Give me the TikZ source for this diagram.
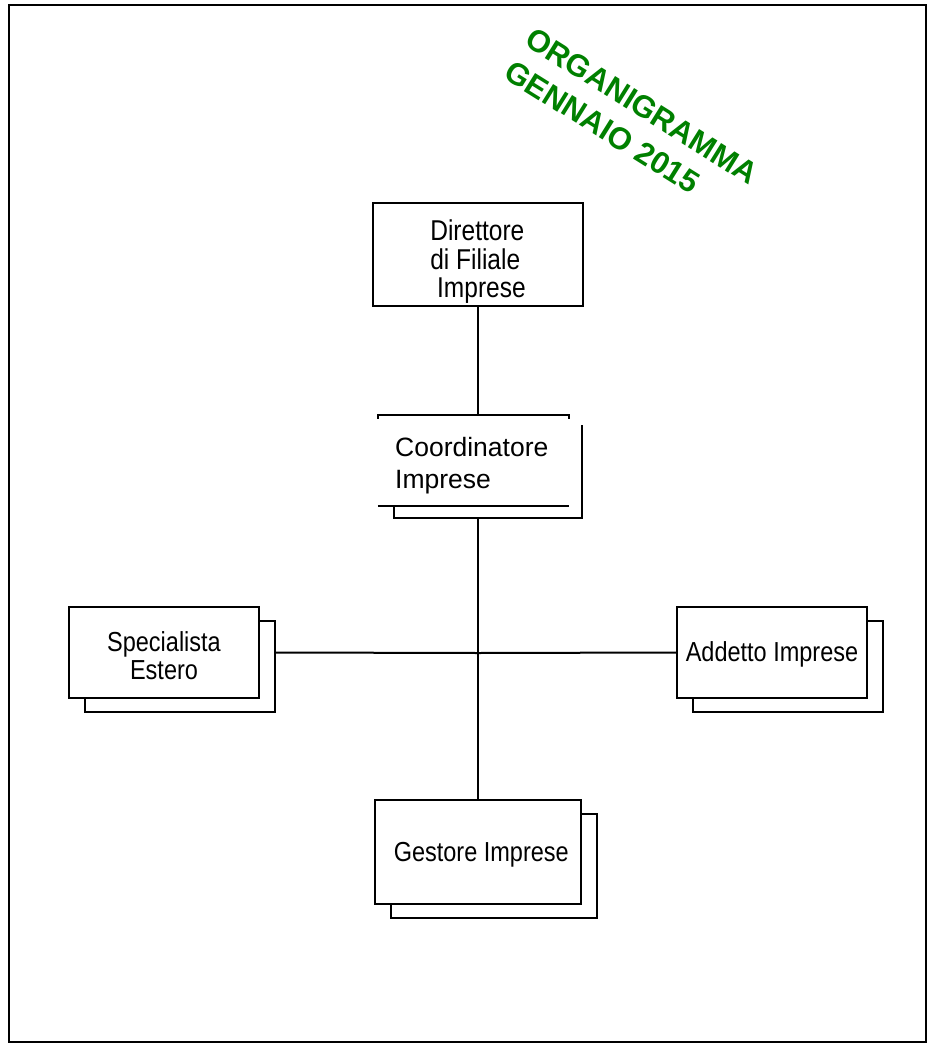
\documentclass[tikz,border=0pt]{standalone}
\usepackage{fontspec}
\setmainfont{Liberation Sans}
\usepackage{tikz}
\usetikzlibrary{shadows}
\usepackage{xcolor}
\usepackage{graphicx}
\definecolor{titlegreen}{RGB}{0,128,0}
% box text, a little taller than wide, lowered by #2
\newcommand{\boxtext}[3][c]{\raisebox{-#2}[\height][\depth]{\scalebox{1}[1.17]{\begin{tabular}{@{}#1@{}}#3\end{tabular}}}}

\begin{document}
\begin{tikzpicture}[x=1pt, y=-1pt,
    box/.style={draw, fill=white, line width=2pt, inner sep=0pt,
        font=\fontsize{23.5}{24}\selectfont},
    stack/.style={box, copy shadow={shadow xshift=15.5pt, shadow yshift=-13.5pt, line width=2pt}},
    link/.style={line width=2pt},
    title/.style={text=titlegreen, font=\fontsize{31}{39}\selectfont\bfseries, rotate=-32}]
    \useasboundingbox (0,0) rectangle (933,1046);
    \draw[line width=2pt] (9,5) rectangle (926,1042);

    % title
    \node[title, align=left, inner sep=0pt] (title) at (631.7,122.5) {ORGANIGRAMMA\\GENNAIO 2015};

    % boxes
    \node[box, minimum width=210pt, minimum height=103pt, font=\fontsize{24.5}{24}\selectfont] (dir) at (478,254.5)
        {\boxtext[l]{8pt}{Direttore\\di Filiale\\~Imprese}};
    \node[minimum width=191pt, minimum height=91pt, inner sep=0pt] (coord) at (473.5,460.5) {};
    \node[anchor=north west, inner sep=0pt, align=left, font=\fontsize{26.5}{32}\selectfont]
        (coordtext) at (395,437) {Coordinatore\\Imprese};
    \draw[link] ([yshift=-4pt]coord.north west) -- (coord.north west) -- (coord.north east) -- ++(0,-4pt);
    \draw[link] (coord.south west) -- (coord.south east);
    \coordinate (cback) at ([yshift=-12pt]coord.south);
    \draw[link] ([xshift=16pt]coord.south west) -- ++(0,-12pt) -| ([shift={(13pt,-10pt)}]coord.north east);
    \node[stack, minimum width=190pt, minimum height=91pt] (spec) at (164,652.5) {\boxtext{7.5pt}{Specialista\\Estero}};
    \node[stack, minimum width=190pt, minimum height=91pt] (add) at (772,652.5) {\boxtext{3pt}{Addetto Imprese}};
    \node[stack, minimum width=206pt, minimum height=104pt] (gest) at (478,852) {\boxtext{3.4pt}{~Gestore Imprese}};

    % connectors
    \coordinate (hub) at (478,653);
    \draw[link] (dir.south) -- (dir.south |- coord.north);
    \draw[line width=2.8pt] (cback -| hub) -- (hub);
    \draw[link] (hub) -- (gest.north);
    \draw[link] ([xshift=15.5pt]spec.east) -- (hub) -- (add.west);
\end{tikzpicture}
\end{document}
